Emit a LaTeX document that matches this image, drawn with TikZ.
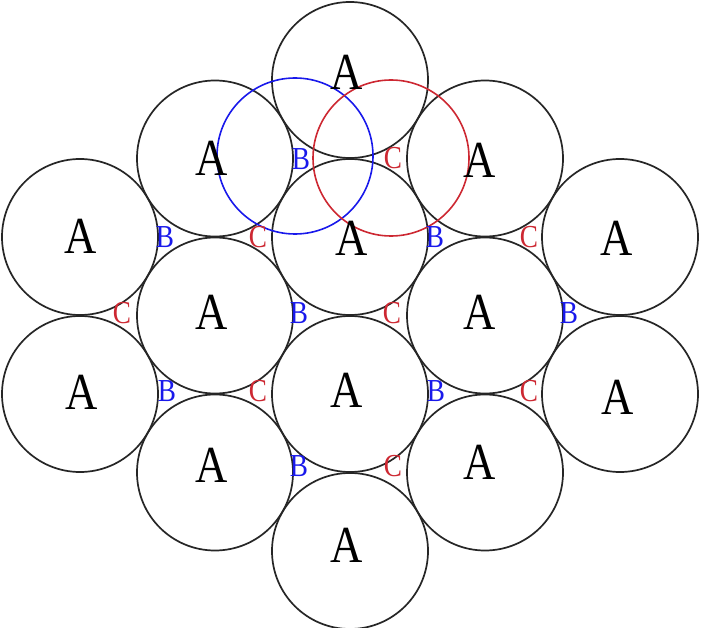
\documentclass[tikz,border=0pt]{standalone}
\usepackage{fontspec}
\setmainfont{Liberation Serif}
\definecolor{bblue}{RGB}{25,25,235}
\definecolor{cred}{RGB}{205,40,50}
\begin{document}
\begin{tikzpicture}[x=1pt,y=-1pt,
  ball/.style={circle,draw=black!85,line width=1.7pt,minimum size=156pt,inner sep=0pt},
  ring/.style={circle,line width=1.6pt,minimum size=156pt,inner sep=0pt},
  alabel/.style={font=\fontsize{52}{52}\selectfont,xscale=0.86,inner sep=0pt},
  blabel/.style={font=\fontsize{32}{32}\selectfont,xscale=0.85,inner sep=0pt,text=bblue},
  clabel/.style={font=\fontsize{32}{32}\selectfont,xscale=0.85,inner sep=0pt,text=cred}]
\useasboundingbox (0,0) rectangle (703,628);
\fill[white] (0,0) rectangle (703,628);
% balls (A layer)
\node[ball] (c31) at (350,80) {};
\node[ball] (c22) at (215,158.5) {};
\node[ball] (c42) at (485,158.5) {};
\node[ball] (c13) at (80,237) {};
\node[ball] (c33) at (350,237) {};
\node[ball] (c53) at (620,237) {};
\node[ball] (c24) at (215,315.5) {};
\node[ball] (c44) at (485,315.5) {};
\node[ball] (c15) at (80,394) {};
\node[ball] (c35) at (350,394) {};
\node[ball] (c55) at (620,394) {};
\node[ball] (c26) at (215,472.5) {};
\node[ball] (c46) at (485,472.5) {};
\node[ball] (c37) at (350,551) {};
% B and C rings
\node[ring,draw=bblue] (rb) at (295,156) {};
\node[ring,draw=cred] (rc) at (391,158) {};
% A labels
\node[alabel] (a31) at (347,72) {A};
\node[alabel] (a22) at (212,158) {A};
\node[alabel] (a42) at (480,160) {A};
\node[alabel] (a13) at (81,236) {A};
\node[alabel] (a33) at (352,238) {A};
\node[alabel] (a53) at (617,238) {A};
\node[alabel] (a24) at (212,312) {A};
\node[alabel] (a44) at (480,312) {A};
\node[alabel] (a15) at (82,392) {A};
\node[alabel] (a35) at (347,390) {A};
\node[alabel] (a55) at (618,397) {A};
\node[alabel] (a26) at (212,465) {A};
\node[alabel] (a46) at (480,462) {A};
\node[alabel] (a37) at (347,545) {A};
% B labels
\node[blabel] (b1) at (301,159) {B};
\node[blabel] (b2) at (165,237) {B};
\node[blabel] (b3) at (435,237) {B};
\node[blabel] (b4) at (299,313) {B};
\node[blabel] (b5) at (569,313) {B};
\node[blabel] (b6) at (167,391) {B};
\node[blabel] (b7) at (436,391) {B};
\node[blabel] (b8) at (299,466) {B};
% C labels
\node[clabel] (k1) at (393,158) {C};
\node[clabel] (k2) at (258,237) {C};
\node[clabel] (k3) at (529,237) {C};
\node[clabel] (k4) at (122,313) {C};
\node[clabel] (k5) at (392,313) {C};
\node[clabel] (k6) at (258,391) {C};
\node[clabel] (k7) at (529,391) {C};
\node[clabel] (k8) at (393,466) {C};
\end{tikzpicture}
\end{document}
